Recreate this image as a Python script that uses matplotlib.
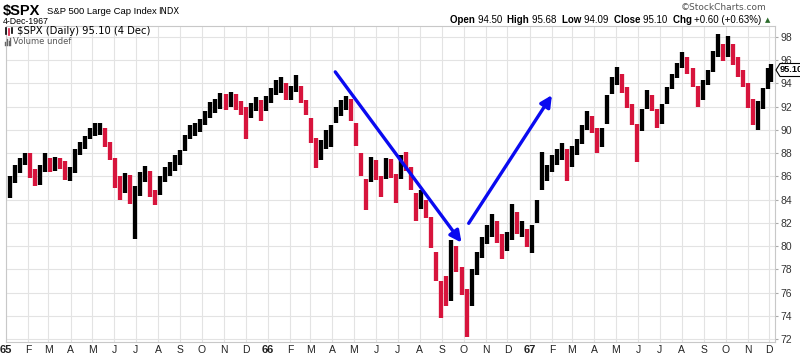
import pandas as pd
import matplotlib
matplotlib.use("Agg")
import matplotlib.pyplot as plt
import matplotlib.dates as mdates
from matplotlib.patches import Polygon
from matplotlib.lines import Line2D

# weekly OHLC (S&P 500, Jan 1965 - 4 Dec 1967)
week_low = [
    84.1, 85.4, 86.3, 87.0, 85.9, 85.2, 85.3, 86.4, 86.4, 86.5,
    86.6, 85.7, 85.6, 86.3, 87.8, 88.4, 89.2, 89.5, 89.6, 88.5,
    87.4, 85.0, 84.0, 84.6, 83.6, 80.6, 84.3, 85.5, 84.2, 83.5,
    84.4, 85.5, 86.0, 86.5, 87.0, 88.2, 89.2, 89.5, 89.8, 90.4,
    91.0, 91.5, 91.8, 91.7, 92.0, 91.7, 91.3, 89.2, 91.0, 91.6,
    90.8, 91.6, 92.3, 93.0, 93.2, 92.6, 92.6, 93.3, 92.3, 91.3,
    88.9, 86.7, 87.4, 88.4, 88.5, 90.6, 91.2, 91.7, 90.8, 88.6,
    86.0, 83.1, 85.5, 85.7, 84.2, 85.8, 85.9, 83.7, 85.8, 86.5,
    84.8, 82.2, 83.2, 82.4, 79.8, 77.0, 73.8, 74.8, 75.3, 77.8,
    75.8, 72.2, 74.8, 77.5, 79.0, 80.2, 80.8, 80.3, 78.9, 79.6,
    80.5, 81.0, 80.8, 79.9, 79.4, 82.0, 84.8, 85.6, 86.4, 87.0,
    87.4, 85.6, 86.8, 87.8, 88.8, 90.0, 89.7, 88.0, 88.5, 90.5,
    93.1, 93.9, 93.2, 91.9, 90.4, 87.2, 89.9, 91.8, 91.6, 90.2,
    90.5, 92.2, 93.5, 94.5, 95.3, 94.8, 93.7, 92.0, 92.6, 93.9,
    95.0, 96.3, 95.9, 96.3, 95.6, 94.6, 93.7, 91.9, 90.4, 90.0,
    91.8, 93.5, 94.09,
]
week_high = [
    86.0, 87.0, 87.6, 88.0, 88.0, 86.6, 87.0, 88.0, 87.6, 87.7,
    87.6, 87.3, 86.8, 88.4, 89.0, 89.5, 90.2, 90.6, 90.6, 90.2,
    89.0, 87.6, 86.0, 86.3, 86.1, 85.2, 86.4, 86.9, 86.5, 84.8,
    86.0, 86.8, 87.2, 87.8, 88.3, 89.6, 90.4, 90.6, 90.9, 91.6,
    92.4, 92.7, 93.2, 93.1, 93.3, 93.1, 92.5, 92.0, 92.3, 92.8,
    92.6, 92.9, 93.6, 94.3, 94.6, 94.0, 93.8, 94.7, 93.8, 92.6,
    91.0, 89.3, 89.1, 90.0, 90.4, 92.0, 92.6, 92.9, 92.7, 90.6,
    88.0, 85.8, 87.7, 87.4, 86.0, 87.6, 87.5, 86.2, 87.8, 88.1,
    86.8, 84.6, 84.8, 84.0, 82.5, 79.5, 77.0, 77.4, 80.5, 80.0,
    78.2, 76.3, 78.0, 79.5, 80.8, 81.8, 82.8, 82.2, 81.0, 81.2,
    83.6, 82.9, 82.2, 81.5, 81.8, 84.0, 88.1, 87.0, 87.8, 88.4,
    88.9, 88.4, 88.6, 89.2, 90.4, 91.6, 91.2, 90.2, 90.2, 93.0,
    94.6, 95.4, 94.8, 93.7, 92.2, 90.5, 91.8, 93.4, 93.0, 91.8,
    92.2, 93.7, 94.8, 95.8, 96.7, 96.3, 95.3, 93.8, 94.3, 95.2,
    96.8, 98.3, 97.4, 98.1, 97.4, 96.3, 95.2, 94.0, 92.7, 92.5,
    93.6, 95.3, 95.68,
]
week_close = [
    85.6, 86.6, 87.2, 87.6, 86.2, 85.8, 86.6, 87.5, 86.9, 87.2,
    86.9, 86.0, 86.4, 88.0, 88.5, 89.2, 89.9, 90.0, 90.1, 88.9,
    87.9, 85.6, 84.6, 85.7, 84.0, 84.8, 85.9, 86.0, 84.7, 84.3,
    85.7, 86.3, 86.7, 87.3, 88.0, 89.3, 90.0, 90.2, 90.6, 91.3,
    91.9, 92.4, 92.5, 92.2, 92.7, 92.1, 91.8, 91.3, 91.9, 92.2,
    92.1, 92.6, 93.2, 93.8, 93.9, 93.3, 93.3, 94.0, 92.5, 91.8,
    89.4, 87.6, 88.7, 89.2, 90.0, 91.7, 92.0, 92.5, 91.1, 89.0,
    86.5, 85.5, 86.8, 86.0, 85.4, 86.8, 86.3, 85.0, 87.5, 87.0,
    85.2, 83.2, 84.0, 83.0, 80.2, 77.8, 75.8, 75.6, 79.6, 78.3,
    76.2, 74.0, 77.5, 78.8, 80.2, 81.0, 82.0, 80.7, 80.5, 80.5,
    82.6, 81.5, 81.8, 80.3, 81.5, 83.8, 86.3, 86.6, 87.3, 87.9,
    88.2, 86.7, 88.3, 88.6, 90.2, 90.9, 90.1, 88.9, 89.8, 92.6,
    94.0, 94.7, 93.6, 92.4, 91.0, 89.6, 91.4, 92.8, 91.9, 90.7,
    91.8, 93.3, 94.3, 95.4, 96.0, 95.3, 94.0, 92.7, 93.9, 94.7,
    96.4, 97.2, 96.7, 97.0, 96.0, 95.2, 94.2, 92.4, 91.4, 91.8,
    93.3, 94.5, 95.10,
]

first_week = "1965-01-04"
last_day = pd.Timestamp("1967-12-04")
y_ticks = list(range(72, 100, 2))

W, H = 800, 356


def fx(x):
    return x / W


def fy(y):
    return 1 - y / H


fig = plt.figure(figsize=(W / 100, H / 100), dpi=100)
ax = fig.add_axes([fx(6), fy(342), 769 / W, 316 / H])

week_start = pd.date_range(first_week, periods=len(week_close), freq="W-MON")
xpos = [mdates.date2num(min(d + pd.Timedelta(days=2), last_day)) for d in week_start]

colors = ["black"]
for i in range(1, len(week_close)):
    colors.append("black" if week_close[i] >= week_close[i - 1] else "#d7143c")

ax.vlines(xpos, week_low, week_high, colors=colors, lw=3.1, zorder=3)

# axes, grid
ax.set_xlim(mdates.date2num(pd.Timestamp("1965-01-01")),
            mdates.date2num(pd.Timestamp("1967-12-09")))
ax.set_ylim(71.74, 98.95)

months = pd.date_range("1965-01-01", "1967-12-01", freq="MS")
ax.set_xticks([mdates.date2num(m) for m in months])
labels = [f"{m.year % 100:02d}" if m.month == 1 else m.strftime("%b")[0] for m in months]
ax.set_xticklabels(labels)
for lab, m in zip(ax.get_xticklabels(), months):
    lab.set_fontfamily("Liberation Sans")
    lab.set_fontsize(7.5)
    lab.set_color("#222222")
    if m.month == 1:
        lab.set_fontweight("bold")
        lab.set_fontsize(8)

ax.yaxis.tick_right()
ax.set_yticks(y_ticks)
ax.set_yticklabels([str(v) for v in y_ticks], fontsize=7.5,
                   fontfamily="Liberation Sans", color="#333333")
ax.tick_params(axis="x", length=0, pad=2)
ax.tick_params(axis="y", length=2, pad=2, color="#aaaaaa")

ax.grid(True, color="#e3e3e3", lw=0.8)
ax.set_axisbelow(True)
for s in ax.spines.values():
    s.set_color("#c8c8c8")
    s.set_linewidth(0.8)

# blue trend arrows
arrow_kw = dict(arrowstyle="-|>", color="#0a0af0", lw=2.4, mutation_scale=17,
                shrinkA=0, shrinkB=0)
ax.annotate("", xy=(mdates.date2num(pd.Timestamp("1966-09-28")), 80.3),
            xytext=(mdates.date2num(pd.Timestamp("1966-04-05")), 95.0),
            arrowprops=arrow_kw, zorder=5)
ax.annotate("", xy=(mdates.date2num(pd.Timestamp("1967-02-01")), 93.0),
            xytext=(mdates.date2num(pd.Timestamp("1966-10-08")), 81.96),
            arrowprops=arrow_kw, zorder=5)

# header
fig.text(fx(3), fy(10.5), "$SPX", fontsize=10.5, fontweight="bold",
         family="Liberation Sans", va="center")
fig.text(fx(47), fy(11), "S&P 500 Large Cap Index", fontsize=6.8,
         family="Liberation Sans", va="center")
fig.text(fx(158), fy(11), "INDX", fontsize=6, family="DejaVu Sans", va="center")
fig.text(fx(3), fy(21.5), "4-Dec-1967", fontsize=6.3, family="Liberation Sans", va="center")
fig.text(fx(766), fy(8), "\u00a9StockCharts.com", fontsize=6.5, color="#555555",
         family="DejaVu Sans", va="center", ha="right")

renderer = fig.canvas.get_renderer()
runs = [("Open ", "bold"), ("94.50  ", "normal"), ("High ", "bold"), ("95.68  ", "normal"),
        ("Low ", "bold"), ("94.09  ", "normal"), ("Close ", "bold"), ("95.10  ", "normal"),
        ("Chg ", "bold"), ("+0.60 (+0.63%) ", "normal")]
xcur = 450
for s, w in runs:
    t = fig.text(fx(xcur), fy(20), s, fontsize=7.0, fontweight=w,
                 family="Liberation Sans", va="center")
    xcur += t.get_window_extent(renderer=renderer).width
fig.text(fx(xcur), fy(20), "\u25b2", fontsize=5, color="#2b6b2b", va="center",
         family="DejaVu Sans")

# in-chart legend
fig.text(fx(17), fy(31.5), "$SPX (Daily) 95.10 (4 Dec)", fontsize=7.2,
         family="DejaVu Sans", va="center")
fig.text(fx(13), fy(41.5), "Volume undef", fontsize=6, family="DejaVu Sans",
         color="#555555", va="center")
for i, (c, lo, hi) in enumerate([("black", 34, 28), ("#d7143c", 35, 29), ("black", 33, 28)]):
    xx = 6 + i * 3
    fig.add_artist(Line2D([fx(xx), fx(xx)], [fy(lo), fy(hi)], color=c, lw=1.2))
for i, h in enumerate([3, 6, 4, 7]):
    xx = 5 + i * 1.8
    fig.add_artist(Line2D([fx(xx), fx(xx)], [fy(45), fy(45 - h)], color="#666666", lw=1))

# last value tag
tag = Polygon([[fx(776), fy(70)], [fx(780), fy(63.5)], [fx(803), fy(63.5)],
               [fx(803), fy(76.5)], [fx(780), fy(76.5)]], closed=True,
              transform=fig.transFigure, facecolor="white", edgecolor="black", lw=0.8)
fig.add_artist(tag)
fig.text(fx(779.5), fy(70), "95.10", fontsize=6.6, fontweight="bold",
         family="Liberation Sans", va="center")

fig.savefig("out.png", dpi=100)
